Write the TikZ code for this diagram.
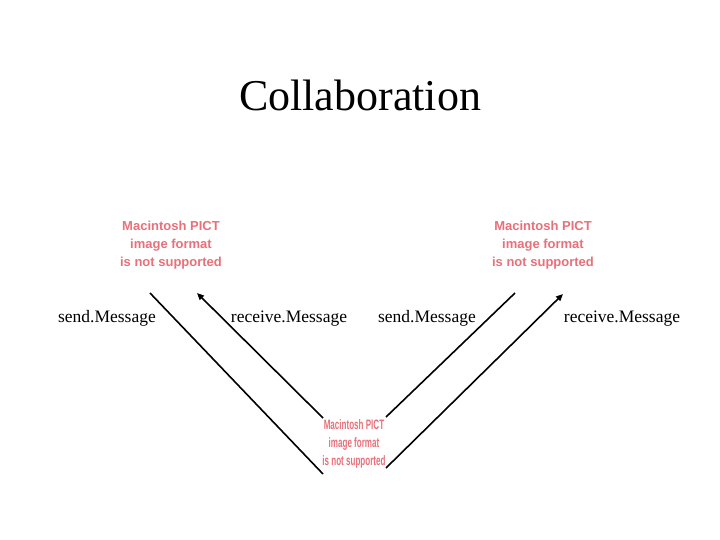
\documentclass[tikz,border=0pt]{standalone}
\usepackage{fontspec}
\setmainfont{Liberation Serif}
\newfontfamily\pictfont{Liberation Sans}
\usetikzlibrary{arrows.meta}
\definecolor{pictred}{RGB}{232,112,122}
\tikzset{
  lbl/.style={font=\fontsize{17.5}{20}\selectfont, inner sep=0pt},
  pict/.style={font=\pictfont\bfseries\fontsize{13}{18}\selectfont, text=pictred, align=center, inner sep=0pt},
  conn/.style={line width=1.6pt, black},
  arr/.style={conn, -{Triangle[length=7pt,width=6pt]}}
}
\begin{document}
\begin{tikzpicture}[x=1pt,y=-1pt]
\useasboundingbox[fill=white] (0,0) rectangle (720,540);
\node[font=\fontsize{44}{50}\selectfont, inner sep=0pt] (title) at (360,95) {Collaboration};
\node[lbl] (s1) at (107,318.5) {send.Message};
\node[lbl] (r1) at (289,318.5) {receive.Message};
\node[lbl] (s2) at (427,318.5) {send.Message};
\node[lbl] (r2) at (622,318.5) {receive.Message};
\node[pict] (p1) at (171,245) {Macintosh PICT\\image format\\is not supported};
\node[pict] (p2) at (543,245) {Macintosh PICT\\image format\\is not supported};
\node[pict] (p3) at (354,444) {\scalebox{0.62}[1.05]{Macintosh PICT}\\\scalebox{0.62}[1.05]{image format}\\\scalebox{0.62}[1.05]{is not supported}};
\coordinate (a1) at (150,293);
\coordinate (a2) at (323,474);
\coordinate (b1) at (323,418);
\coordinate (b2) at (197,293);
\coordinate (c1) at (386,417);
\coordinate (c2) at (515,293);
\coordinate (d1) at (386,468);
\coordinate (d2) at (563,294);
\draw[conn] (a1) -- (a2);
\draw[arr] (b1) -- (b2);
\draw[conn] (c1) -- (c2);
\draw[arr] (d1) -- (d2);
\end{tikzpicture}
\end{document}
